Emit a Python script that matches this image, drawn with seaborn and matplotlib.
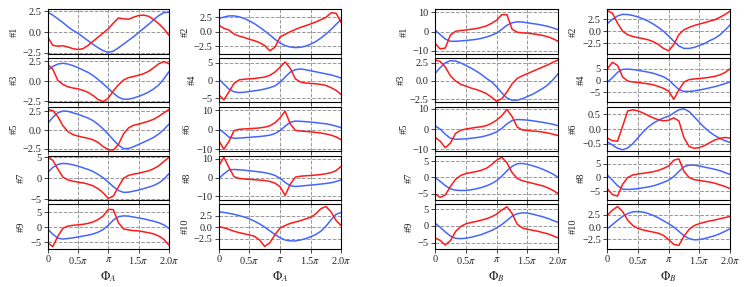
import numpy as np
import pandas as pd
import matplotlib.pyplot as plt
import seaborn as sns

# sampling grid of the phase, step pi/12
phi = np.linspace(0, 2 * np.pi, 25)

# ---- Phi_A panels ----
A1_red = [-0.6, -1.6, -1.7, -1.65, -1.8, -2.0, -2.1, -2.0, -1.6, -1.1, -0.6, -0.1, 0.4,
          1.1, 1.7, 1.6, 1.55, 1.8, 2.0, 2.05, 1.9, 1.5, 1.0, 0.4, -0.4]
A1_blue = [2.4, 2.05, 1.6, 1.15, 0.65, 0.2, -0.15, -0.6, -1.05, -1.5, -1.9, -2.25, -2.45,
           -2.3, -1.9, -1.45, -1.0, -0.55, -0.05, 0.45, 0.95, 1.5, 2.0, 2.35, 2.4]
A3_red = [2.1, 1.5, 0.1, -0.4, -0.7, -0.85, -0.95, -1.15, -1.4, -1.8, -2.3, -2.55, -2.1,
          -1.2, -0.45, 0.15, 0.45, 0.6, 0.75, 0.95, 1.25, 1.7, 2.2, 2.45, 2.2]
A3_blue = [1.35, 1.85, 2.15, 2.25, 2.15, 1.95, 1.7, 1.4, 1.1, 0.7, 0.2, -0.35, -0.9,
           -1.5, -2.0, -2.25, -2.25, -2.1, -1.9, -1.65, -1.35, -0.95, -0.45, 0.3, 1.2]
A5_red = [2.75, 2.6, 1.8, 0.6, -0.2, -0.6, -0.8, -0.95, -1.1, -1.3, -1.65, -2.2, -2.6,
          -2.65, -1.9, -0.5, 0.3, 0.65, 0.8, 1.0, 1.2, 1.45, 1.85, 2.3, 2.75]
A5_blue = [0.9, 1.7, 2.3, 2.55, 2.5, 2.3, 2.1, 1.85, 1.6, 1.25, 0.75, 0.15, -0.55,
           -1.3, -2.0, -2.45, -2.45, -2.2, -1.9, -1.6, -1.3, -0.95, -0.5, 0.1, 0.8]
A7_red = [5.0, 4.3, 2.2, 0.3, -0.4, -0.7, -0.9, -1.1, -1.4, -1.8, -2.5, -3.5, -4.8,
          -4.2, -2.0, 0.0, 0.7, 1.0, 1.2, 1.5, 1.8, 2.3, 3.0, 4.0, 5.0]
A7_blue = [1.35, 2.6, 3.3, 3.55, 3.45, 3.2, 2.9, 2.5, 2.1, 1.6, 0.9, 0.1, -0.9,
           -2.0, -2.9, -3.35, -3.3, -3.05, -2.8, -2.45, -2.1, -1.7, -1.1, -0.2, 1.1]
A9_red = [-5.2, -6.4, -3.0, -0.3, 0.4, 0.65, 0.8, 1.0, 1.3, 1.8, 2.6, 3.8, 6.0,
          5.8, 1.5, -0.5, -0.9, -1.1, -1.2, -1.5, -1.8, -2.2, -2.9, -4.0, -6.0]
A9_blue = [-0.6, -2.3, -3.6, -3.9, -3.7, -3.5, -3.2, -2.9, -2.6, -2.2, -1.6, -0.7, 0.7,
           2.4, 3.5, 3.8, 3.7, 3.4, 3.1, 2.8, 2.4, 2.0, 1.5, 0.8, -0.4]

A2_red = [1.15, 0.6, 0.3, -0.4, -0.75, -1.0, -1.3, -1.55, -1.9, -2.4, -3.3, -2.7, -0.9,
          -0.45, 0.0, 0.4, 0.75, 1.05, 1.35, 1.7, 2.1, 2.5, 3.3, 3.2, 1.55]
A2_blue = [2.3, 2.55, 2.75, 2.75, 2.6, 2.3, 1.9, 1.4, 0.8, 0.15, -0.55, -1.3, -1.95,
           -2.4, -2.65, -2.75, -2.7, -2.5, -2.15, -1.7, -1.1, -0.4, 0.4, 1.3, 2.15]
A4_red = [-4.0, -5.5, -3.2, -0.8, 0.2, 0.4, 0.5, 0.6, 0.8, 1.0, 1.5, 2.4, 3.8,
          5.3, 3.5, 0.5, -0.4, -0.7, -0.8, -0.9, -1.1, -1.4, -2.0, -2.8, -4.0]
A4_blue = [0.5, -1.0, -2.4, -3.2, -3.4, -3.3, -3.1, -2.9, -2.7, -2.4, -2.0, -1.5, -0.5,
           1.0, 2.4, 3.1, 3.3, 3.1, 2.8, 2.5, 2.2, 1.9, 1.6, 1.2, 0.7]
A6_red = [-5.5, -10.0, -6.0, -0.5, 0.2, 0.4, 0.5, 0.7, 0.9, 1.3, 2.0, 3.5, 6.0,
          9.5, 3.0, -0.3, -0.7, -0.9, -1.1, -1.4, -1.7, -2.2, -2.8, -3.7, -5.2]
A6_blue = [0.5, -1.5, -3.8, -4.4, -4.3, -4.1, -3.9, -3.7, -3.5, -3.2, -2.8, -2.0, -0.5,
           1.8, 3.8, 4.4, 4.3, 4.1, 3.9, 3.6, 3.3, 3.0, 2.5, 1.8, 1.0]
A8_red = [6.2, 11.0, 5.5, 0.5, -0.4, -0.7, -0.9, -1.1, -1.3, -1.5, -2.0, -2.9, -4.8,
          -9.5, -3.5, 0.3, 0.8, 1.0, 1.2, 1.4, 1.7, 2.1, 2.7, 3.8, 6.2]
A8_blue = [-0.5, 2.0, 4.1, 4.4, 4.2, 4.0, 3.7, 3.4, 3.1, 2.7, 2.1, 1.2, -0.3,
           -2.5, -4.3, -4.7, -4.5, -4.2, -4.0, -3.7, -3.4, -3.1, -2.7, -2.0, -1.2]
A10_red = [0.15, -0.15, -0.5, -0.9, -1.2, -1.45, -1.7, -2.0, -2.8, -4.2, -3.4, -1.7, -0.2,
           0.35, 0.8, 1.1, 1.4, 1.8, 2.1, 2.9, 4.0, 4.5, 3.3, 1.4, 0.3]
A10_blue = [3.3, 3.2, 3.0, 2.8, 2.5, 2.2, 1.8, 1.3, 0.7, 0.0, -0.8, -1.6, -2.3,
            -2.8, -3.0, -3.0, -2.8, -2.5, -2.1, -1.6, -0.9, 0.2, 1.6, 2.8, 3.2]

# ---- Phi_B panels ----
B1_red = [-6.0, -9.0, -8.5, -1.8, 0.2, 0.6, 0.85, 1.2, 1.6, 2.2, 3.0, 4.3, 6.0,
          8.8, 8.8, 1.3, -0.3, -0.6, -0.8, -1.1, -1.5, -2.0, -2.7, -3.7, -5.1]
B1_blue = [0.85, -1.5, -3.8, -5.0, -5.0, -4.8, -4.6, -4.3, -4.0, -3.5, -2.8, -1.9, -0.7,
           1.2, 3.3, 4.6, 5.1, 5.0, 4.6, 4.2, 3.8, 3.3, 2.7, 1.9, 1.0]
B3_red = [2.85, 2.65, 1.9, 0.7, 0.0, -0.45, -0.7, -0.95, -1.15, -1.4, -1.7, -2.2, -2.75,
          -2.4, -1.5, -0.4, 0.35, 0.7, 1.0, 1.3, 1.6, 1.9, 2.2, 2.55, 2.85]
B3_blue = [1.0, 1.8, 2.45, 2.75, 2.7, 2.45, 2.1, 1.75, 1.35, 0.9, 0.35, -0.1, -0.8,
           -1.6, -2.3, -2.6, -2.6, -2.4, -2.1, -1.8, -1.4, -1.0, -0.5, 0.2, 1.0]
B5_red = [-4.1, -6.0, -9.3, -7.0, -2.2, -0.6, 0.0, 0.4, 0.8, 1.1, 1.7, 2.8, 4.4,
          6.6, 9.7, 6.2, 1.0, -0.5, -0.8, -1.0, -1.2, -1.5, -2.0, -2.6, -3.3]
B5_blue = [1.6, 0.0, -2.6, -4.6, -5.1, -5.0, -4.9, -4.6, -4.3, -3.9, -3.3, -2.5, -1.4,
           0.3, 2.5, 4.2, 4.7, 4.6, 4.4, 4.1, 3.7, 3.3, 2.8, 2.3, 1.6]
B7_red = [-5.0, -6.1, -5.4, -2.8, -0.6, 0.6, 1.2, 1.5, 1.8, 2.2, 2.8, 3.9, 5.3,
          6.2, 4.5, 1.5, -0.3, -1.0, -1.4, -1.8, -2.2, -2.6, -3.2, -4.0, -5.0]
B7_blue = [0.0, -1.2, -2.5, -3.5, -3.9, -4.0, -4.0, -3.8, -3.5, -3.1, -2.6, -1.9, -1.0,
           0.4, 2.0, 3.4, 4.2, 4.3, 4.0, 3.6, 3.1, 2.5, 1.8, 1.0, 0.0]
B9_red = [-3.6, -4.3, -5.7, -4.4, -1.7, -0.2, 0.6, 1.0, 1.3, 1.7, 2.1, 2.7, 3.5,
          4.7, 5.7, 3.7, 0.5, -0.6, -1.0, -1.3, -1.6, -2.0, -2.4, -3.0, -3.6]
B9_blue = [0.8, -0.4, -1.8, -3.0, -3.7, -3.8, -3.7, -3.4, -3.0, -2.6, -2.0, -1.4, -0.6,
           0.4, 1.6, 2.9, 3.6, 3.9, 3.8, 3.5, 3.1, 2.7, 2.2, 1.6, 1.0]

B2_red = [4.3, 3.8, 1.7, 0.0, -0.75, -1.1, -1.35, -1.55, -1.8, -2.2, -2.8, -3.6, -4.1,
          -2.8, -0.7, 0.3, 0.8, 1.2, 1.5, 1.8, 2.1, 2.4, 2.9, 3.5, 4.2]
B2_blue = [1.6, 2.5, 3.2, 3.55, 3.5, 3.3, 3.0, 2.6, 2.1, 1.5, 0.8, 0.0, -1.0,
           -2.1, -3.1, -3.6, -3.6, -3.4, -3.0, -2.6, -2.0, -1.5, -0.8, 0.2, 1.3]
B4_red = [5.0, 7.8, 6.5, 1.5, -0.2, -0.6, -0.8, -1.1, -1.4, -1.8, -2.5, -3.3, -4.5,
          -8.0, -4.0, -0.6, 0.4, 0.7, 0.9, 1.1, 1.4, 1.8, 2.4, 3.4, 5.0]
B4_blue = [-0.7, 1.2, 3.5, 4.8, 4.9, 4.7, 4.4, 4.0, 3.6, 3.1, 2.4, 1.6, 0.3,
           -1.8, -3.8, -4.6, -4.6, -4.4, -4.0, -3.6, -3.1, -2.6, -2.0, -1.3, -0.6]
B6_red = [-0.31, -0.4, -0.42, 0.1, 0.62, 0.66, 0.62, 0.55, 0.46, 0.38, 0.32, 0.28, 0.3,
          0.38, 0.28, -0.3, -0.6, -0.66, -0.64, -0.57, -0.47, -0.38, -0.32, -0.29, -0.31]
B6_blue = [-0.44, -0.55, -0.66, -0.71, -0.65, -0.5, -0.3, -0.1, 0.07, 0.2, 0.3, 0.38, 0.44,
           0.55, 0.66, 0.69, 0.6, 0.42, 0.23, 0.05, -0.1, -0.22, -0.32, -0.4, -0.46]
B8_red = [-4.1, -6.3, -6.8, -2.5, 0.0, 0.9, 1.25, 1.5, 1.8, 2.1, 2.6, 3.3, 4.2,
          6.3, 6.8, 2.2, 0.0, -0.8, -1.1, -1.4, -1.7, -2.1, -2.7, -3.3, -4.1]
B8_blue = [0.9, -1.0, -3.0, -4.3, -4.4, -4.3, -4.1, -3.8, -3.5, -3.1, -2.5, -1.8, -1.0,
           0.3, 2.2, 3.9, 4.5, 4.5, 4.2, 3.8, 3.4, 3.0, 2.5, 1.8, 1.1]
B10_red = [2.45, 3.5, 4.25, 3.2, 1.4, 0.3, -0.3, -0.6, -0.85, -1.05, -1.3, -1.75, -2.6,
           -3.6, -3.8, -1.9, -0.5, 0.3, 0.7, 1.0, 1.25, 1.45, 1.7, 1.95, 2.2]
B10_blue = [-0.35, 0.5, 1.4, 2.2, 2.8, 3.15, 3.2, 3.1, 2.8, 2.4, 1.9, 1.3, 0.7,
            0.0, -0.9, -1.8, -2.4, -2.65, -2.6, -2.4, -2.1, -1.8, -1.4, -0.9, -0.35]

# column -> list of (label, red, blue, ylim, yticks)
t25 = [-2.5, 0, 2.5]
t5 = [-5, 0, 5]
t10 = [-10, 0, 10]
columns = [
    [("#1", A1_red, A1_blue, (-2.6, 2.75), t25),
     ("#3", A3_red, A3_blue, (-2.65, 2.9), t25),
     ("#5", A5_red, A5_blue, (-2.8, 3.1), t25),
     ("#7", A7_red, A7_blue, (-5.15, 5.4), t5),
     ("#9", A9_red, A9_blue, (-7.1, 7.6), t5)],
    [("#2", A2_red, A2_blue, (-3.8, 3.9), t25),
     ("#4", A4_red, A4_blue, (-6.2, 6.4), t5),
     ("#6", A6_red, A6_blue, (-11.0, 11.7), t10),
     ("#8", A8_red, A8_blue, (-11.9, 11.8), t10),
     ("#10", A10_red, A10_blue, (-4.7, 4.95), t25)],
    [("#1", B1_red, B1_blue, (-11.4, 11.6), t10),
     ("#3", B3_red, B3_blue, (-2.9, 3.1), t25),
     ("#5", B5_red, B5_blue, (-11.0, 11.0), t10),
     ("#7", B7_red, B7_blue, (-6.9, 6.7), t5),
     ("#9", B9_red, B9_blue, (-6.8, 6.4), t5)],
    [("#2", B2_red, B2_blue, (-4.7, 4.6), t25),
     ("#4", B4_red, B4_blue, (-9.3, 9.6), t5),
     ("#6", B6_red, B6_blue, (-0.76, 0.76), [-0.5, 0, 0.5]),
     ("#8", B8_red, B8_blue, (-8.25, 8.0), t5),
     ("#10", B10_red, B10_blue, (-4.5, 4.7), t25)],
]
xlabels = [r"$\Phi_A$", r"$\Phi_A$", r"$\Phi_B$", r"$\Phi_B$"]
col_bounds = [(0.0639, 0.2262), (0.2928, 0.4569), (0.5823, 0.7474), (0.8130, 0.9772)]

sns.set_style("whitegrid", {"grid.linestyle": "--", "grid.color": "0.6",
                            "axes.edgecolor": "black", "xtick.bottom": True,
                            "ytick.left": True})
plt.rcParams["font.family"] = ["Liberation Serif", "DejaVu Serif"]
plt.rcParams["mathtext.fontset"] = "stix"

RED = "#ff1a1a"
BLUE = "#4466ff"

fig = plt.figure(figsize=(7.47, 2.87), dpi=100)

for c, panels in enumerate(columns):
    left, right = col_bounds[c]
    gs = fig.add_gridspec(5, 1, left=left, right=right, top=0.9676, bottom=0.1334,
                          hspace=0.1)
    for r, (lab, red, blue, ylim, yt) in enumerate(panels):
        ax = fig.add_subplot(gs[r, 0])
        df = pd.DataFrame({"phi": phi, "red": red, "blue": blue})
        sns.lineplot(data=df, x="phi", y="blue", color=BLUE, lw=1.1, ax=ax)
        sns.lineplot(data=df, x="phi", y="red", color=RED, lw=1.1, ax=ax)
        ax.set_xlim(0, 2 * np.pi)
        ax.set_ylim(*ylim)
        ax.set_yticks(yt)
        ax.set_xticks([0, np.pi / 2, np.pi, 1.5 * np.pi, 2 * np.pi])
        ax.grid(True, linestyle="--", color="0.6", lw=0.7)
        ax.tick_params(direction="out", length=3, width=0.6, labelsize=7.5, pad=1.5)
        for s in ax.spines.values():
            s.set_color("black")
            s.set_linewidth(0.8)
        ax.set_ylabel(lab, fontsize=7.5, labelpad=3)
        if r == 4:
            ax.set_xticklabels(["0", r"0.5$\pi$", r"$\pi$", r"1.5$\pi$", r"2.0$\pi$"])
            ax.set_xlabel(xlabels[c], fontsize=9, labelpad=2)
        else:
            ax.set_xticklabels([])
            ax.set_xlabel("")

fig.savefig("out.png", dpi=100)
